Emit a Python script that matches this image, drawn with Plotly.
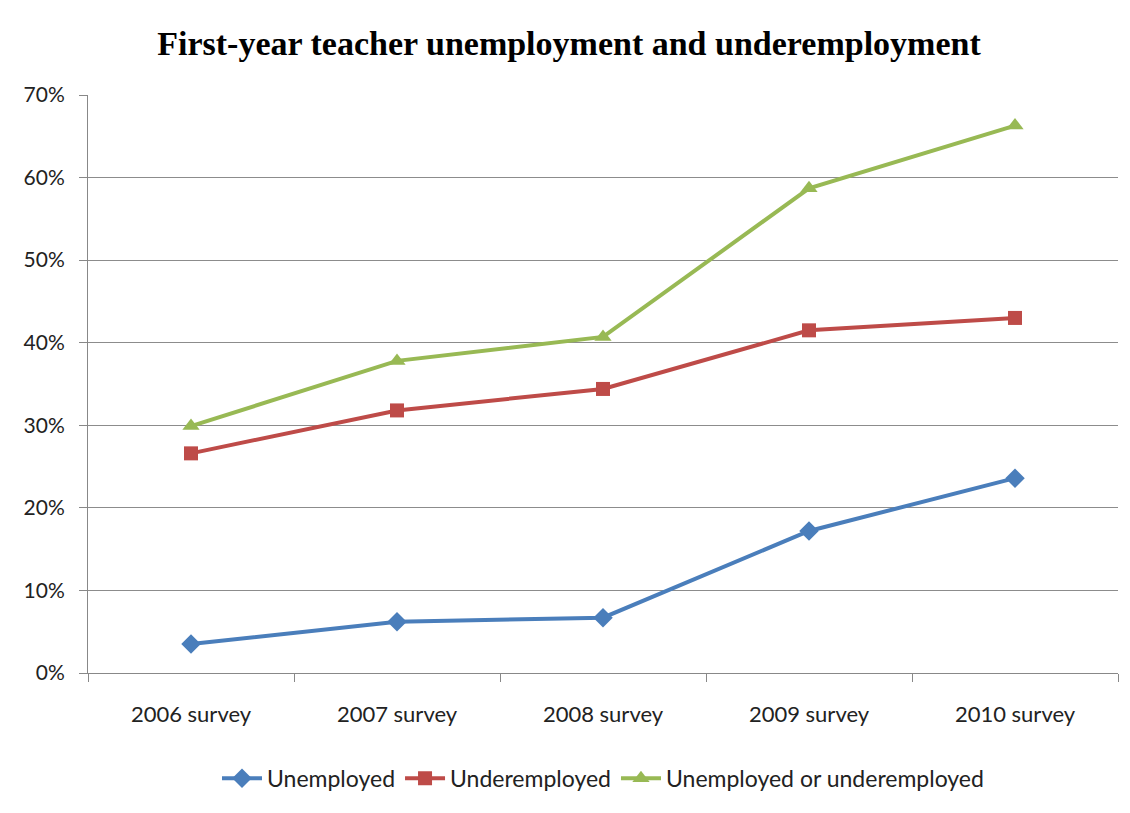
import plotly.graph_objects as go

surveys = ["2006 survey", "2007 survey", "2008 survey", "2009 survey", "2010 survey"]
unemployed = [0.035, 0.062, 0.067, 0.172, 0.236]
underemployed = [0.266, 0.318, 0.344, 0.415, 0.430]
either = [0.299, 0.378, 0.407, 0.587, 0.663]

fig = go.Figure()
fig.add_trace(go.Scatter(x=surveys, y=unemployed, mode="lines+markers", name="Unemployed",
                         line=dict(color="#4A7EBB", width=4),
                         marker=dict(symbol="diamond", size=15, color="#4A7EBB")))
fig.add_trace(go.Scatter(x=surveys, y=underemployed, mode="lines+markers", name="Underemployed",
                         line=dict(color="#BE4B48", width=4),
                         marker=dict(symbol="square", size=14, color="#BE4B48")))
fig.add_trace(go.Scatter(x=surveys, y=either, mode="lines+markers", name="Unemployed or underemployed",
                         line=dict(color="#98B954", width=4),
                         marker=dict(symbol="triangle-up", size=15, color="#98B954")))

fig.update_layout(
    width=1122, height=805,
    margin=dict(l=80, r=12, t=87, b=140),
    paper_bgcolor="white", plot_bgcolor="white",
    title=dict(text="<b>First-year teacher unemployment and underemployment</b>",
               x=0.5, xanchor="center", y=0.957, yanchor="middle",
               font=dict(family="Liberation Serif", size=34, color="black")),
    font=dict(family="Lato", size=20, color="#222"),
    legend=dict(orientation="h", x=0.5, xanchor="center", y=-0.182, yanchor="middle",
                font=dict(size=23), itemwidth=40),
    showlegend=True,
)
fig.update_xaxes(type="category", showgrid=False, showline=True, linecolor="#888", linewidth=1,
                 ticks="outside", tickson="boundaries", ticklen=8, tickcolor="#888",
                 tickfont=dict(size=22), ticklabelstandoff=22, range=[-0.5, 4.5])
fig.update_yaxes(range=[0, 0.7], dtick=0.1, tickformat=".0%", showgrid=True, gridcolor="#8c8c8c",
                 gridwidth=1, showline=True, linecolor="#888", linewidth=1,
                 ticks="outside", ticklen=8, tickcolor="#888", tickfont=dict(size=21),
                 ticklabelstandoff=10, zeroline=False)

fig.write_html("out.html")
